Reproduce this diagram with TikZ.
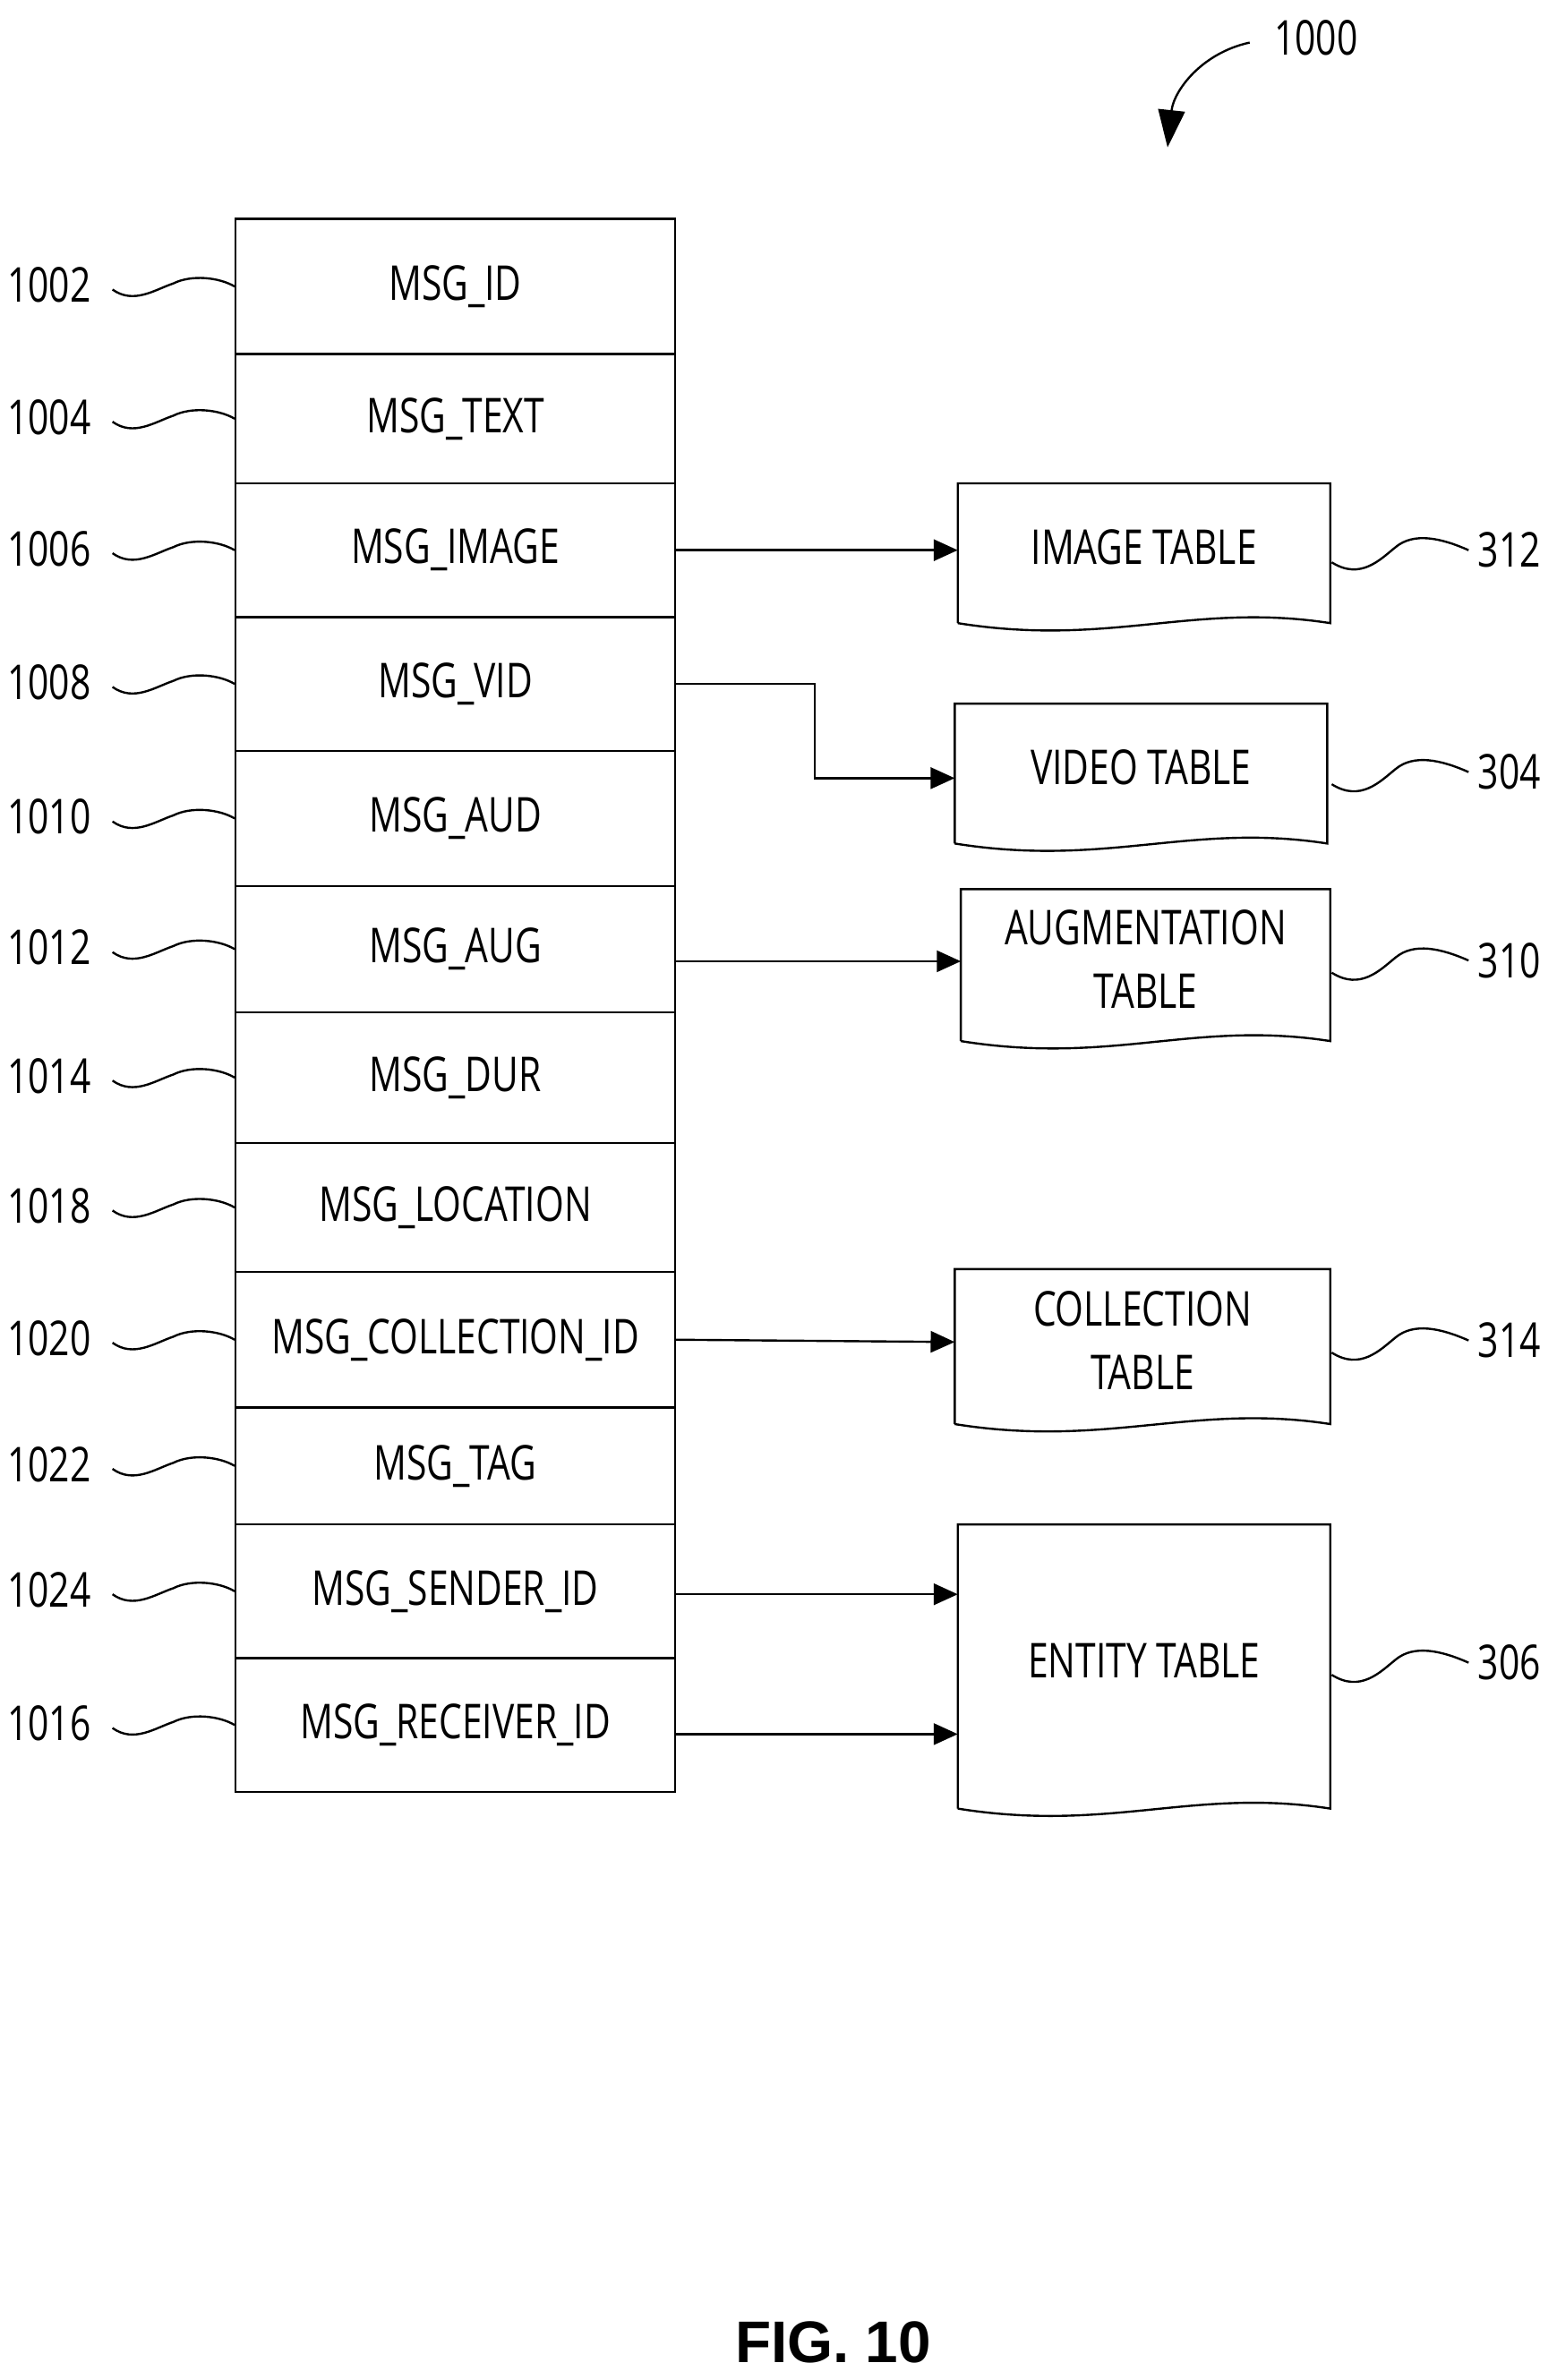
\documentclass[tikz,border=0pt]{standalone}
\usepackage{fontspec}
\setmainfont{Open Sans}[FakeStretch=0.76]
\usetikzlibrary{positioning,arrows.meta,calc}
\tikzset{
  field/.style={draw,thick,rectangle,inner sep=0pt,minimum width=5.78cm,font=\fontsize{18}{20}\selectfont},
  reftext/.style={font=\fontsize{18}{20}\selectfont},
  link/.style={thick,-{Triangle[length=9pt,width=8pt]}},
  squig/.style={thick}
}
\newcommand{\doctable}[6]{% name, x1, y1, x2, y2, text
  \draw[thick] (#2,#5) -- (#2,#3) -- (#4,#3) -- (#4,#5)
    .. controls ($(#4,#5)+(-90,-14)$) and ($(#2,#5)+(100,16)$) .. (#2,#5);
  \node[reftext,align=center,inner sep=0pt] (#1) at ($(#2,#3)!0.5!(#4,#5)+(0,-4)$) {#6};
}
\begin{document}
\begin{tikzpicture}[x=0.02cm,y=-0.02cm]
  \useasboundingbox (0,0) rectangle (1024,1566);
  % fields of the message
  \foreach \t/\b/\txt/\n in {144/233/MSG\_ID/1002, 233/318/MSG\_TEXT/1004, 318/406/MSG\_IMAGE/1006,
      406/494/MSG\_VID/1008, 494/583/MSG\_AUD/1010, 583/666/MSG\_AUG/1012, 666/752/MSG\_DUR/1014,
      752/837/MSG\_LOCATION/1018, 837/926/MSG\_COLLECTION\_ID/1020, 926/1003/MSG\_TAG/1022,
      1003/1091/MSG\_SENDER\_ID/1024, 1091/1179/MSG\_RECEIVER\_ID/1016}{
    \pgfmathsetmacro{\h}{(\b-\t)*0.02}
    \node[field,minimum height=\h cm] (r\n) at (299.5,{(\t+\b)/2}) {\txt};
    \node[reftext,anchor=east] (l\n) at (66,{(\t+\b)/2-1}) {\n};
    \draw[squig] (l\n.east) ++(8,3) .. controls +(14,10) and +(-12,4) .. ++(40,-4)
      .. controls +(12,-6) and +(-10,-6) .. (r\n.west);
  }
  % target tables
  \doctable{img}{630}{318}{875}{410}{IMAGE TABLE}
  \doctable{vid}{628}{463}{873}{555}{VIDEO TABLE}
  \doctable{aug}{632}{585}{875}{685}{AUGMENTATION\\[4pt]TABLE}
  \doctable{col}{628}{835}{875}{937}{COLLECTION\\[4pt]TABLE}
  \doctable{ent}{630}{1003}{875}{1190}{ENTITY TABLE}
  \foreach \d/\y/\n in {img/362/312, vid/508/304, aug/632/310, col/882/314, ent/1094/306}{
    \node[reftext,anchor=west] (n\n) at (966,\y) {\n};
    \draw[squig] (876,\y+8) .. controls (895,\y+20) and (908,\y+6) .. (918,\y-2)
      .. controls (930,\y-12) and (948,\y-8) .. (n\n.west);
  }
  % connectors
  \draw[link] (r1006.east) -- (630,362);
  \draw[link] (r1008.east) -- (536,450) -- (536,512) -- (628,512);
  \draw[link] ($(r1012.east)+(0,8)$) -- (632,632.5);
  \draw[link] (r1020.east) -- (628,883);
  \draw[link] ($(r1024.east)+(0,2)$) -- (630,1049);
  \draw[link] ($(r1016.east)+(0,6)$) -- (630,1141);
  % figure reference
  \node[reftext,anchor=west] (n1000) at (832,25) {1000};
  \draw[thick,-{Triangle[length=14pt,width=10pt]}] (822,28) .. controls (790,35) and (772,60) .. (768,97);
  \node[font=\fontspec{Liberation Sans}\bfseries\fontsize{22}{24}\selectfont] (fig) at (548,1541) {FIG. 10};
\end{tikzpicture}
\end{document}
